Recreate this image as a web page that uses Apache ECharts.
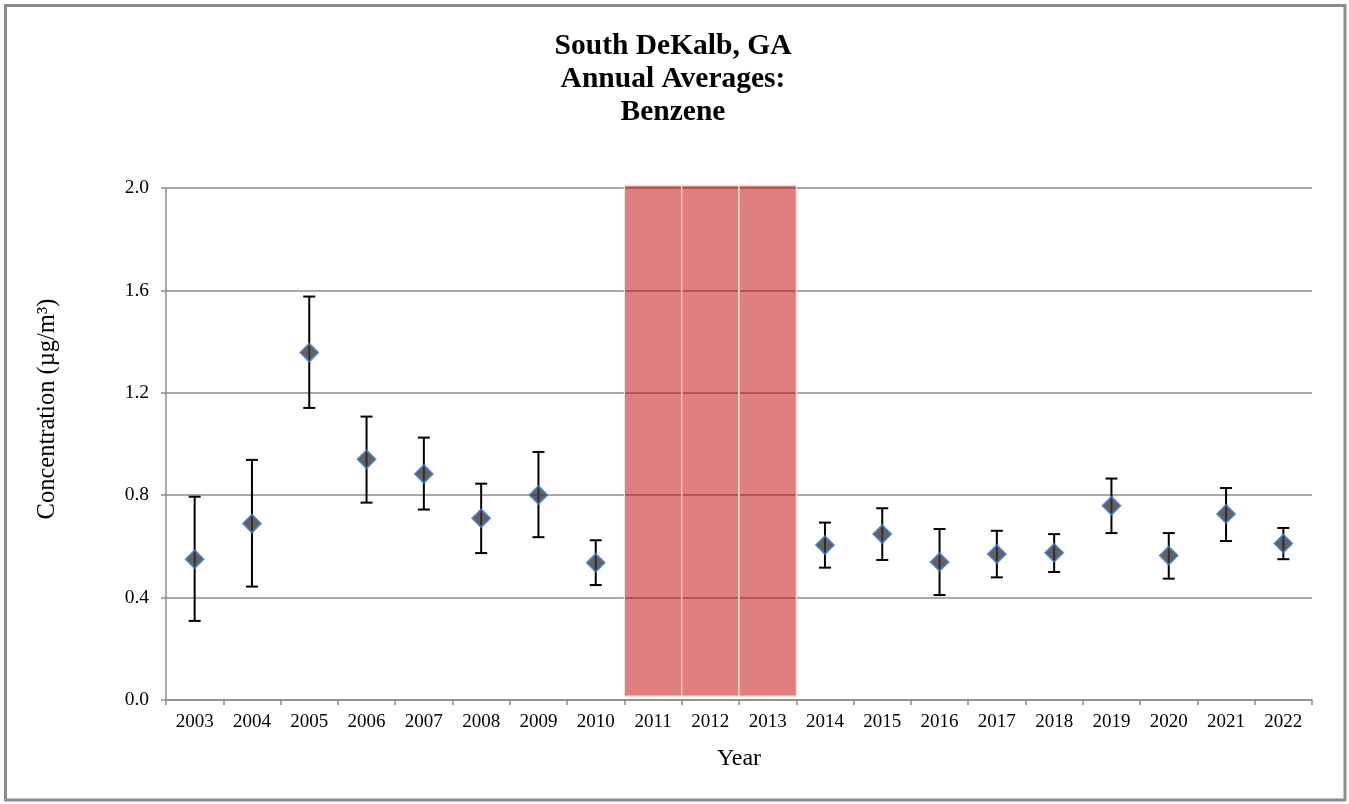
<!DOCTYPE html>
<html>
<head>
<meta charset="utf-8">
<title>South DeKalb, GA Annual Averages: Benzene</title>
<script src="https://cdn.jsdelivr.net/npm/echarts@6/dist/echarts.min.js"></script>
<style>
  html, body { margin: 0; padding: 0; background: #ffffff; }
  #chart { width: 1349px; height: 804px; }
</style>
</head>
<body>
<div id="chart"></div>
<script>
// Annual average benzene concentrations (µg/m³) with 95% confidence bounds
const years = ['2003', '2004', '2005', '2006', '2007', '2008', '2009', '2010', '2011', '2012',
               '2013', '2014', '2015', '2016', '2017', '2018', '2019', '2020', '2021', '2022'];
const means = [0.550, 0.689, 1.357, 0.940, 0.883, 0.710, 0.801, 0.536, null, null,
               null, 0.605, 0.648, 0.539, 0.570, 0.575, 0.759, 0.564, 0.727, 0.611];
const upper = [0.794, 0.938, 1.576, 1.107, 1.025, 0.845, 0.969, 0.624, null, null,
               null, 0.693, 0.749, 0.668, 0.661, 0.648, 0.865, 0.652, 0.828, 0.672];
const lower = [0.309, 0.443, 1.141, 0.771, 0.744, 0.574, 0.636, 0.449, null, null,
               null, 0.517, 0.547, 0.410, 0.479, 0.500, 0.652, 0.474, 0.621, 0.550];
// Years without a valid annual average, shaded across the full axis range
const shadedYears = ['2011', '2012', '2013'];
const shadeLow = 0.015;
const shadeHigh = 2.01;
const yTicks = [0.0, 0.4, 0.8, 1.2, 1.6, 2.0];

const serif = 'Liberation Serif, Times New Roman, serif';
const gridGray = '#8c8c8c';

const errorData = [];
years.forEach((y, i) => {
  if (means[i] !== null) errorData.push([i, lower[i], upper[i]]);
});
const meanData = years.map((y, i) => [i, means[i]]).filter(d => d[1] !== null);
const shadeData = shadedYears.map(y => [years.indexOf(y), shadeLow, shadeHigh]);

const chart = echarts.init(document.getElementById('chart'), null, { renderer: 'canvas' });

chart.setOption({
  backgroundColor: '#ffffff',
  animation: false,
  title: {
    text: 'South DeKalb, GA\nAnnual Averages:\nBenzene',
    left: 668,
    top: 25,
    textAlign: 'center',
    textStyle: {
      fontFamily: serif,
      fontWeight: 'bold',
      fontSize: 29.5,
      lineHeight: 33,
      color: '#000000'
    }
  },
  graphic: [
    {
      type: 'rect',
      shape: { x: 5.5, y: 5.5, width: 1339.5, height: 794.5 },
      style: { fill: 'none', stroke: gridGray, lineWidth: 3 },
      silent: true
    },
    {
      type: 'text',
      x: 48,
      y: 409,
      rotation: Math.PI / 2,
      style: {
        text: 'Concentration (µg/m³)',
        font: '24.5px ' + serif,
        fill: '#000000',
        align: 'center',
        verticalAlign: 'middle'
      },
      silent: true
    }
  ],
  grid: { left: 166, right: 37, top: 188, bottom: 104 },
  xAxis: {
    type: 'category',
    data: years,
    boundaryGap: true,
    name: 'Year',
    nameLocation: 'middle',
    nameGap: 47,
    nameTextStyle: { fontFamily: serif, fontSize: 24, color: '#000000' },
    axisLine: { lineStyle: { color: gridGray, width: 1.5 } },
    axisTick: { show: true, length: 5, inside: false, lineStyle: { color: gridGray, width: 1.5 } },
    axisLabel: { fontFamily: serif, fontSize: 19, color: '#000000', margin: 13, interval: 0 },
    splitLine: { show: false }
  },
  yAxis: {
    type: 'value',
    min: yTicks[0],
    max: yTicks[yTicks.length - 1],
    interval: 0.4,
    axisLine: { show: true, lineStyle: { color: gridGray, width: 1.5 } },
    axisTick: { show: true, length: 5, inside: false, lineStyle: { color: gridGray, width: 1.5 } },
    axisLabel: {
      fontFamily: serif, fontSize: 19.5, color: '#000000', margin: 17,
      formatter: v => v.toFixed(1)
    },
    splitLine: { show: true, lineStyle: { color: gridGray, width: 1.5 } }
  },
  series: [
    {
      // shaded years
      type: 'custom',
      z: 3,
      data: shadeData,
      renderItem: function (params, api) {
        const idx = api.value(0);
        const bandW = api.size([1, 0])[0];
        const top = api.coord([idx, api.value(2)]);
        const bottom = api.coord([idx, api.value(1)]);
        return {
          type: 'rect',
          shape: {
            x: top[0] - bandW / 2,
            y: top[1],
            width: bandW,
            height: bottom[1] - top[1]
          },
          style: {
            fill: 'rgba(192,0,0,0.5)',
            stroke: '#f2e4d8',
            lineWidth: 1.2
          }
        };
      }
    },
    {
      // confidence interval whiskers
      type: 'custom',
      z: 4,
      data: errorData,
      renderItem: function (params, api) {
        const idx = api.value(0);
        const lo = api.coord([idx, api.value(1)]);
        const hi = api.coord([idx, api.value(2)]);
        const cap = 6;
        const style = { stroke: '#000000', lineWidth: 2 };
        return {
          type: 'group',
          children: [
            { type: 'line', shape: { x1: lo[0], y1: lo[1], x2: hi[0], y2: hi[1] }, style: style },
            { type: 'line', shape: { x1: hi[0] - cap, y1: hi[1], x2: hi[0] + cap, y2: hi[1] }, style: style },
            { type: 'line', shape: { x1: lo[0] - cap, y1: lo[1], x2: lo[0] + cap, y2: lo[1] }, style: style }
          ]
        };
      }
    },
    {
      // annual means
      type: 'scatter',
      z: 5,
      data: meanData,
      symbol: 'diamond',
      symbolSize: 18,
      itemStyle: {
        color: '#3a3a3a',
        borderColor: '#4478d0',
        borderWidth: 1.8
      }
    }
  ]
});
</script>
</body>
</html>
